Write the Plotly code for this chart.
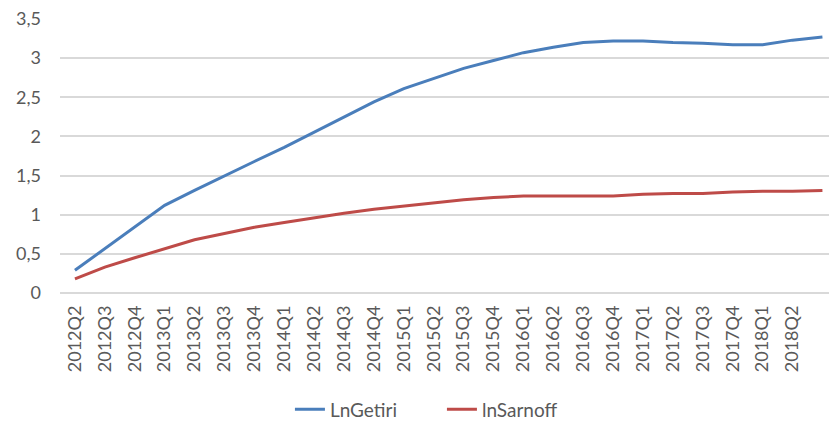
import plotly.graph_objects as go

# Quarterly periods
quarters = [
    "2012Q2", "2012Q3", "2012Q4",
    "2013Q1", "2013Q2", "2013Q3", "2013Q4",
    "2014Q1", "2014Q2", "2014Q3", "2014Q4",
    "2015Q1", "2015Q2", "2015Q3", "2015Q4",
    "2016Q1", "2016Q2", "2016Q3", "2016Q4",
    "2017Q1", "2017Q2", "2017Q3", "2017Q4",
    "2018Q1", "2018Q2", "2018Q3",
]

# Log values of the two series
ln_getiri = [
    0.29, 0.57, 0.84,
    1.12, 1.31, 1.50, 1.68,
    1.86, 2.05, 2.25, 2.44,
    2.61, 2.74, 2.87, 2.97,
    3.07, 3.14, 3.20, 3.22,
    3.22, 3.20, 3.19, 3.17,
    3.17, 3.23, 3.27,
]
ln_sarnoff = [
    0.18, 0.33, 0.45,
    0.57, 0.68, 0.76, 0.84,
    0.90, 0.96, 1.02, 1.07,
    1.11, 1.15, 1.19, 1.22,
    1.24, 1.24, 1.24, 1.24,
    1.26, 1.27, 1.27, 1.29,
    1.30, 1.30, 1.31,
]

# Labelled categories on the x axis
tick_labels = quarters[:-1]
y_ticks = [0, 0.5, 1, 1.5, 2, 2.5, 3, 3.5]

text_color = "#595959"
grid_color = "#D9D9D9"
font_family = "Lato, 'Liberation Sans', sans-serif"

x_idx = list(range(len(quarters)))

fig = go.Figure()
fig.add_trace(go.Scatter(
    x=x_idx, y=ln_getiri, name="LnGetiri", mode="lines",
    line=dict(color="#4A7EBB", width=3),
))
fig.add_trace(go.Scatter(
    x=x_idx, y=ln_sarnoff, name="lnSarnoff", mode="lines",
    line=dict(color="#BE4B48", width=3),
))

fig.update_layout(
    width=829, height=423,
    margin=dict(l=60, r=0, t=19, b=130, autoexpand=False),
    paper_bgcolor="white", plot_bgcolor="white",
    separators=",.",
    font=dict(family=font_family, size=18, color=text_color),
    showlegend=True,
    legend=dict(
        orientation="h", x=0.299, xanchor="left",
        y=-0.425, yanchor="middle",
        font=dict(family=font_family, size=19, color=text_color),
        entrywidth=107, entrywidthmode="pixels",
        tracegroupgap=0,
    ),
)

fig.update_xaxes(
    range=[-0.5, 25.22],
    tickmode="array",
    tickvals=list(range(len(tick_labels))),
    ticktext=tick_labels,
    tickangle=-90,
    showgrid=False, zeroline=False,
    showline=False, automargin=False,
    ticks="", ticklabelstandoff=8,
    tickfont=dict(family=font_family, size=18, color=text_color),
)
fig.update_yaxes(
    range=[0, 3.5],
    tickmode="array", tickvals=y_ticks,
    showgrid=True, gridcolor=grid_color, gridwidth=1.5,
    zeroline=True, zerolinecolor=grid_color, zerolinewidth=1.5,
    showline=False, automargin=False,
    ticks="", ticklabelstandoff=18,
    tickfont=dict(family=font_family, size=18, color=text_color),
)

fig.write_html("out.html")
